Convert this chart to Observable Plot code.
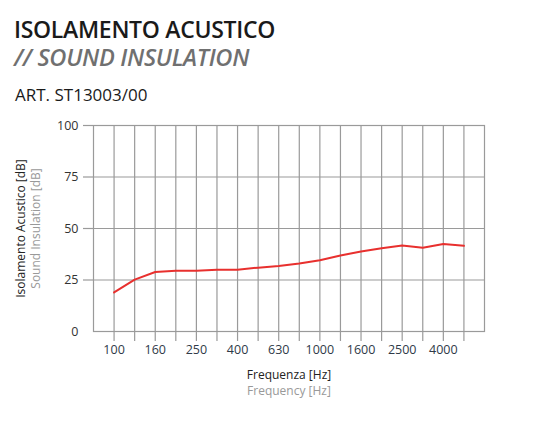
<!DOCTYPE html>
<html><head><meta charset="utf-8">
<script src="https://cdn.jsdelivr.net/npm/d3@7"></script>
<script src="https://cdn.jsdelivr.net/npm/@observablehq/plot@0.6"></script>
<style>
body{margin:0;width:535px;height:431px;position:relative;background:#fff;font-family:"Open Sans",sans-serif;overflow:hidden}
#t1{position:absolute;left:14px;top:17px;font-size:23px;font-weight:600;color:#1a1a1a;letter-spacing:-0.3px;line-height:24px}
#t2{position:absolute;left:14px;top:45px;font-size:23.6px;font-weight:600;font-style:italic;color:#707070;letter-spacing:-0.3px;line-height:24px}
#t3{position:absolute;left:15px;top:83px;font-size:17px;color:#1a1a1a;line-height:24px}
#chart{position:absolute;left:0;top:0}
</style></head>
<body>
<div id="chart"></div>
<div id="t1">ISOLAMENTO ACUSTICO</div>
<div id="t2">// SOUND INSULATION</div>
<div id="t3">ART. ST13003/00</div>
<script>
const frequencies = ["100","125","160","200","250","315","400","500","630","800","1000","1250","1600","2000","2500","3150","4000","5000"];
const insulation = [19.0,25.2,28.9,29.5,29.5,30.0,30.0,31.0,31.8,33.0,34.6,36.9,38.8,40.4,41.7,40.7,42.5,41.6];
const xTickLabels = ["100","160","250","400","630","1000","1600","2500","4000"];
const yTicks = [0,25,50,75,100];
const yTickMarks = [25,50,75,100];

const data = frequencies.map((f,i)=>({f, v: insulation[i]}));
const grid = "#9a9a9a";

const chart = Plot.plot({
  width: 535, height: 431,
  marginLeft: 93, marginRight: 51, marginTop: 125, marginBottom: 100,
  style: {fontFamily: '"Open Sans", sans-serif', background: "transparent"},
  x: {type: "point", domain: frequencies, padding: 1, round: false, label: null},
  y: {domain: [0,100], label: null},
  marks: [
    Plot.gridY(yTickMarks, {stroke: grid, strokeOpacity: 1, strokeWidth: 1.2}),
    Plot.gridX(frequencies, {stroke: grid, strokeOpacity: 1, strokeWidth: 1.2}),
    Plot.frame({stroke: grid, strokeWidth: 1.2}),
    Plot.axisY(yTickMarks, {tickSize: 10, tickFormat: () => "", stroke: grid, strokeWidth: 1.2, strokeOpacity: 1, label: null}),
    Plot.axisX(frequencies, {tickSize: 10, tickFormat: () => "", stroke: grid, strokeWidth: 1.2, strokeOpacity: 1, label: null}),
    Plot.axisY(yTicks, {tickSize: 0, tickPadding: 15, fontSize: 12.5, fill: "#333", label: null}),
    Plot.axisX(xTickLabels, {tickSize: 0, tickPadding: 14, fontSize: 12.5, fill: "#2f3a48", label: null}),
    Plot.line(data, {x: "f", y: "v", stroke: "#e8302e", strokeWidth: 2}),
    Plot.text(["Frequenza [Hz]"], {frameAnchor: "bottom", dy: 47, fontSize: 12, fill: "#222"}),
    Plot.text(["Frequency [Hz]"], {frameAnchor: "bottom", dy: 63, fontSize: 12, fill: "#999"}),
    Plot.text(["Isolamento Acustico [dB]"], {frameAnchor: "left", textAnchor: "middle", dx: -72, rotate: -90, fontSize: 12, fill: "#222"}),
    Plot.text(["Sound Insulation [dB]"], {frameAnchor: "left", textAnchor: "middle", dx: -57, rotate: -90, fontSize: 12, fill: "#999"})
  ]
});
document.getElementById("chart").appendChild(chart);
</script>
</body></html>
